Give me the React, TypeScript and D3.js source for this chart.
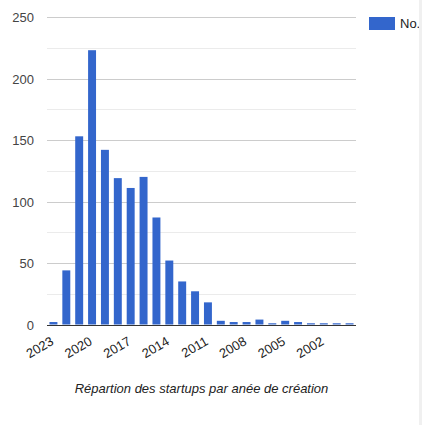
import React from "react";
import * as d3 from "d3";

// années (de la plus récente à la plus ancienne) et nombre de startups
const years = [
  "2023", "2022", "2021", "2020", "2019", "2018", "2017", "2016",
  "2015", "2014", "2013", "2012", "2011", "2010", "2009", "2008",
  "2007", "2006", "2005", "2004", "2003", "2002", "2001", "2000",
];
const counts = [
  2, 44, 153, 223, 142, 119, 111, 120, 87, 52, 35, 27, 18, 3, 2, 2, 4, 1, 3,
  2, 1, 1, 1, 1,
];
const yTicks = [0, 50, 100, 150, 200, 250];
const yMinorTicks = [25, 75, 125, 175, 225];
const xLabels = ["2023", "2020", "2017", "2014", "2011", "2008", "2005", "2002"];
const seriesName = "No.";
const title = "Répartion des startups par anée de création";

const W = 422;
const H = 425;
const left = 47;
const right = 356;
const top = 17;
const bottom = 324.5;
const font = "Arial, 'Liberation Sans', sans-serif";

export default function App() {
  const x = d3
    .scaleBand<string>()
    .domain(years)
    .range([left, right])
    .paddingInner(0.382)
    .paddingOuter(0.191);
  const y = d3.scaleLinear().domain([0, 250]).range([bottom, top]);

  return (
    <svg
      width={W}
      height={H}
      style={{ position: "absolute", left: 0, top: 0, background: "#fff" }}
    >
      {/* minor gridlines */}
      {yMinorTicks.map((t) => (
        <rect
          key={"m" + t}
          x={left}
          y={Math.round(y(t))}
          width={right - left}
          height={1}
          fill="#ebebeb"
        />
      ))}
      {/* major gridlines + labels */}
      {yTicks.map((t) => (
        <g key={t}>
          {t > 0 && (
            <rect
              x={left}
              y={Math.round(y(t))}
              width={right - left}
              height={1}
              fill="#cccccc"
            />
          )}
          <text
            x={34}
            y={y(t) + 5}
            textAnchor="end"
            fontFamily={font}
            fontSize={13}
            fill="#444"
          >
            {t}
          </text>
        </g>
      ))}
      {/* bars */}
      {years.map((yr, i) => (
        <rect
          key={yr}
          x={x(yr)}
          y={y(counts[i])}
          width={x.bandwidth()}
          height={bottom - y(counts[i])}
          fill="#3366cc"
        />
      ))}
      {/* baseline */}
      <rect
        x={left}
        y={Math.round(y(0))}
        width={right - left}
        height={1}
        fill="#333"
      />
      {/* x labels */}
      {xLabels.map((l) => {
        const cx = (x(l) as number) + x.bandwidth() / 2 + 1;
        return (
          <text
            key={l}
            transform={`translate(${cx},344) rotate(-30)`}
            textAnchor="end"
            fontFamily={font}
            fontSize={13}
            fill="#222"
          >
            {l}
          </text>
        );
      })}
      {/* title */}
      <text
        x={(left + right) / 2}
        y={393}
        textAnchor="middle"
        fontFamily={font}
        fontSize={13}
        fontStyle="italic"
        fill="#222"
      >
        {title}
      </text>
      {/* legend */}
      <rect x={369} y={17} width={26} height={13} fill="#3366cc" />
      <text x={400} y={28} fontFamily={font} fontSize={13} fill="#222">
        {seriesName}
      </text>
      {/* right strip */}
      <rect x={419} y={0} width={3} height={H} fill="#f0f0f0" />
    </svg>
  );
}
